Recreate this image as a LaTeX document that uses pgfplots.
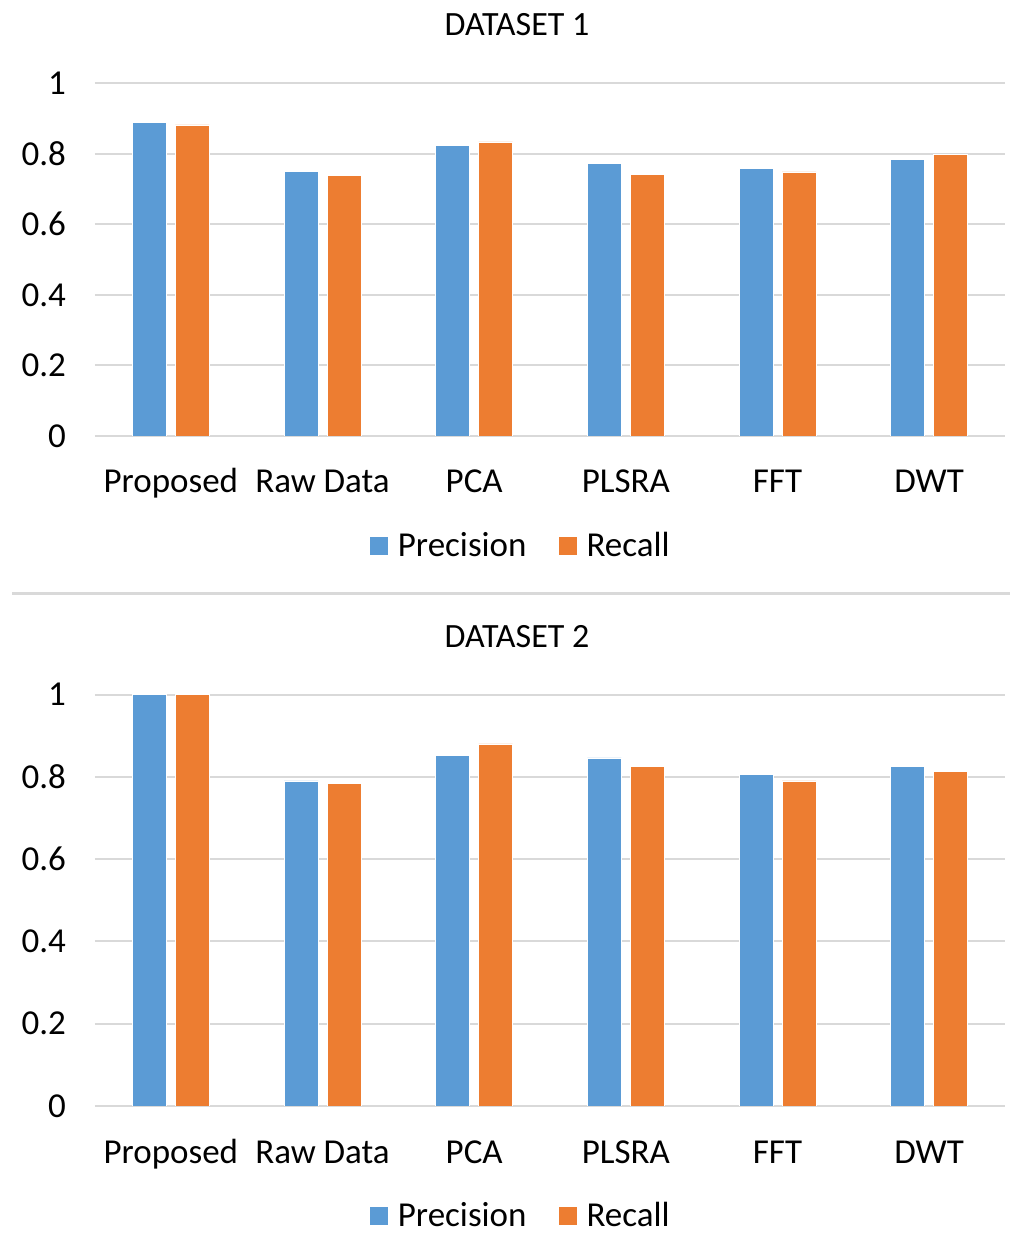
\documentclass[border=0pt]{standalone}
\usepackage{fontspec}
\setmainfont{Carlito}
\usepackage{pgfplots}
\usepackage{pgfplotstable}
\pgfplotsset{compat=1.18}
\definecolor{cblue}{HTML}{5B9BD5}
\definecolor{corange}{HTML}{ED7D31}
\definecolor{cgrid}{HTML}{D9D9D9}

\pgfplotstableread{
idx P R
0 0.887 0.881
1 0.750 0.737
2 0.823 0.833
3 0.771 0.740
4 0.758 0.748
5 0.784 0.798
}\dataA

\pgfplotstableread{
idx P R
0 1.000 1.000
1 0.790 0.785
2 0.852 0.880
3 0.846 0.825
4 0.805 0.790
5 0.826 0.813
}\dataB

\pgfplotsset{
  panel/.style={
    anchor=south west, scale only axis, width=455pt,
    ymin=0, ymax=1, xmin=-0.5, xmax=5.5,
    ybar=4.5pt, bar width=17pt,
    xtick={0,...,5},
    xticklabels={Proposed,Raw Data,PCA,PLSRA,FFT,DWT},
    ytick={0,0.2,...,1},
    ymajorgrids, grid style={cgrid, line width=1pt},
    axis line style={draw=none}, major tick length=0pt,
    /pgf/number format/assume math mode=true,
    tick label style={font=\fontsize{17.5}{20}\selectfont},
    xticklabel style={anchor=base, yshift=-28.5pt},
    yticklabel style={xshift=-11pt},
    title style={at={(0.4637,1)}, anchor=base, yshift=17.5pt, font=\fontsize{17}{20}\selectfont},
    legend columns=-1,
    legend style={draw=none, anchor=center, font=\fontsize{17.5}{20}\selectfont,
      /tikz/every odd column/.append style={column sep=3pt},
      /tikz/every even column/.append style={column sep=14pt}},
    legend image code/.code={\path[#1,draw=none] (0pt,-4.5pt) rectangle (9pt,4.5pt);},
  }
}

\begin{document}
\begin{tikzpicture}
\path[use as bounding box] (0pt,0pt) rectangle (512pt,620.5pt);

\begin{axis}[panel, at={(47.5pt,402.5pt)}, height=176.5pt, title={DATASET 1},
  legend style={at={(0.469,-0.3116)}}]
\addplot[fill=cblue, draw=white, line width=0.4pt] table[x=idx,y=P] {\dataA};
\addplot[fill=corange, draw=white, line width=0.4pt] table[x=idx,y=R] {\dataA};
\legend{Precision,Recall}
\end{axis}

\draw[cgrid, line width=1.5pt] (6pt,323.5pt) -- (505pt,323.5pt);

\begin{axis}[panel, at={(47.5pt,67.5pt)}, height=205.7pt, title={DATASET 2},
  legend style={at={(0.469,-0.2676)}}]
\addplot[fill=cblue, draw=white, line width=0.4pt] table[x=idx,y=P] {\dataB};
\addplot[fill=corange, draw=white, line width=0.4pt] table[x=idx,y=R] {\dataB};
\legend{Precision,Recall}
\end{axis}
\end{tikzpicture}
\end{document}
